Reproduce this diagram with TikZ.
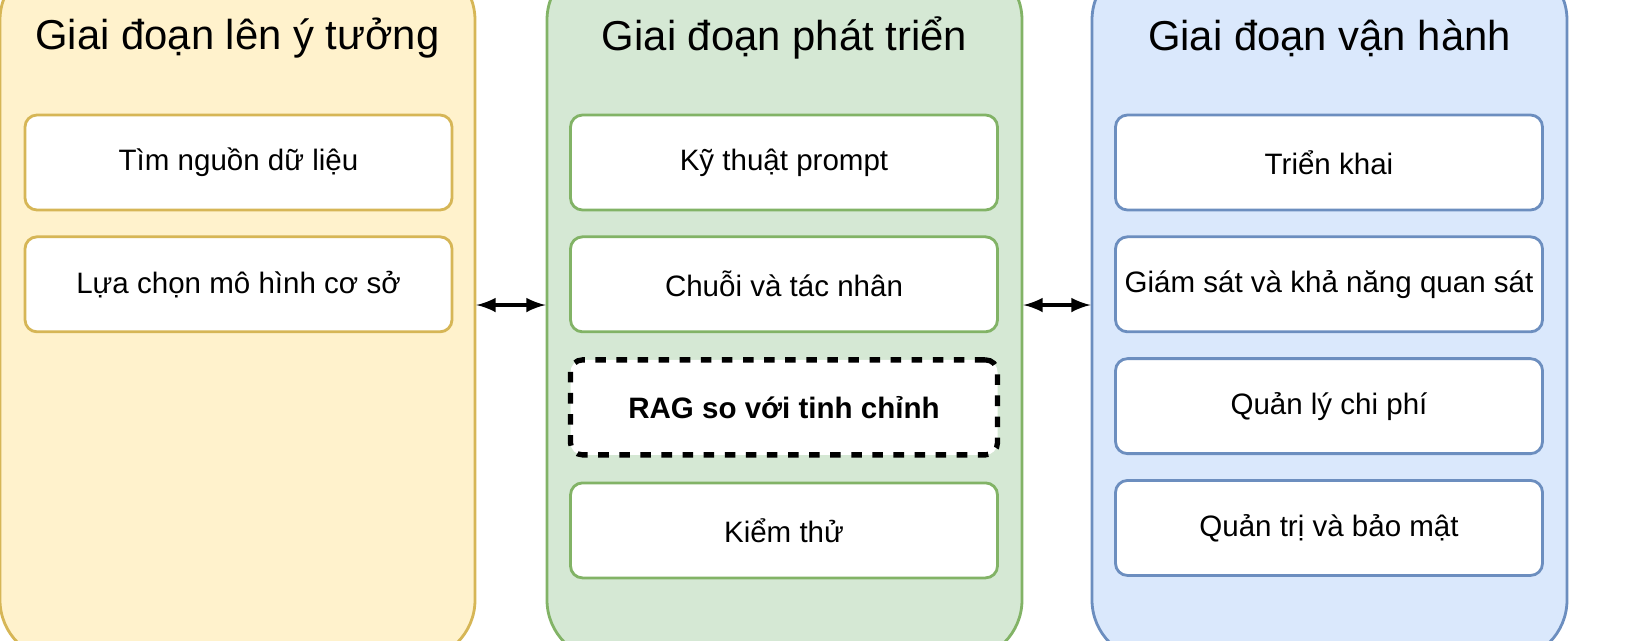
\documentclass[tikz,border=0pt]{standalone}
\usepackage{fontspec}
\setmainfont{Liberation Sans}
\usetikzlibrary{positioning}
\definecolor{vangnen}{HTML}{FFF2CC}\definecolor{vangvien}{HTML}{D6B656}
\definecolor{lucnen}{HTML}{D5E8D4}\definecolor{lucvien}{HTML}{82B366}
\definecolor{lamnen}{HTML}{DAE8FC}\definecolor{lamvien}{HTML}{6C8EBF}
\tikzset{
  giaidoan/.style={draw, line width=0.8pt, rounded corners=0.6cm, minimum width=4.75cm, minimum height=7cm},
  tieude/.style={font=\fontsize{11.9}{14}\selectfont},
  hop/.style={draw, fill=white, line width=0.8pt, rounded corners=0.12cm, minimum width=4.27cm, minimum height=0.95cm, inner xsep=0.5pt, font=\fontsize{8.4}{10}\selectfont},
}
\begin{document}
\begin{tikzpicture}[>=latex]
  \useasboundingbox (0,0) rectangle (16.48,-6.4);
  \clip (0,0) rectangle (16.48,-6.4);
  % cac giai doan
  \node[giaidoan, fill=vangnen, draw=vangvien] (y) at (2.375,-3.1) {};
  \node[giaidoan, fill=lucnen, draw=lucvien] (p) at (7.845,-3.1) {};
  \node[giaidoan, fill=lamnen, draw=lamvien] (v) at (13.295,-3.1) {};
  \node[tieude] at (2.375,-0.38) {Giai đoạn lên ý tưởng};
  \node[tieude] at (7.845,-0.38) {Giai đoạn phát triển};
  \node[tieude] at (13.295,-0.38) {Giai đoạn vận hành};
  % cot 1
  \node[hop, draw=vangvien] (y1) at (2.385,-1.625) {Tìm nguồn dữ liệu};
  \node[hop, draw=vangvien, below=0.24cm of y1] (y2) {Lựa chọn mô hình cơ sở};
  % cot 2
  \node[hop, draw=lucvien] (p1) at (7.84,-1.625) {Kỹ thuật prompt};
  \node[hop, draw=lucvien, below=0.24cm of p1] (p2) {Chuỗi và tác nhân};
  \node[hop, draw=black, dashed, line width=1.5pt, below=0.24cm of p2, font=\fontsize{8.4}{10}\selectfont\bfseries] (p3) {RAG so với tinh chỉnh};
  \node[hop, draw=lucvien, below=0.24cm of p3] (p4) {Kiểm thử};
  % cot 3
  \node[hop, draw=lamvien] (v1) at (13.29,-1.625) {Triển khai};
  \node[hop, draw=lamvien, below=0.24cm of v1] (v2) {Giám sát và khả năng quan sát};
  \node[hop, draw=lamvien, below=0.24cm of v2] (v3) {Quản lý chi phí};
  \node[hop, draw=lamvien, below=0.24cm of v3] (v4) {Quản trị và bảo mật};
  % mui ten
  \coordinate (a1) at (y.east |- 0,-3.05);
  \coordinate (a2) at (p.west |- 0,-3.05);
  \coordinate (b1) at (p.east |- 0,-3.05);
  \coordinate (b2) at (v.west |- 0,-3.05);
  \draw[<->, line width=0.9pt] (a1) -- (a2);
  \draw[<->, line width=0.9pt] (b1) -- (b2);
\end{tikzpicture}
\end{document}
